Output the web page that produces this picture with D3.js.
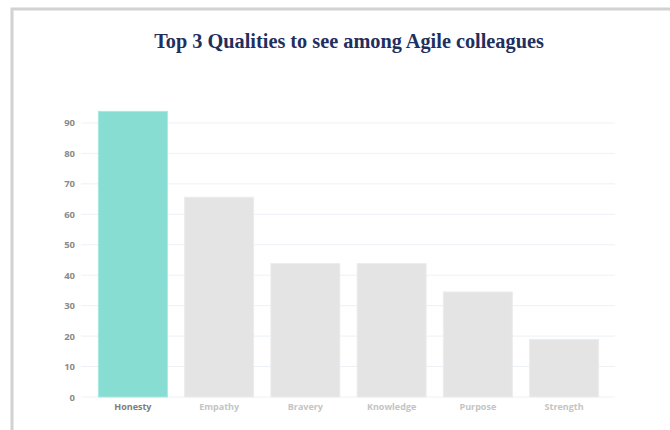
<!DOCTYPE html>
<html>
<head>
<meta charset="utf-8">
<script src="https://cdn.jsdelivr.net/npm/d3@7"></script>
<style>
  body { margin: 0; background: #fff; }
  svg { display: block; }
  .tick text { font-family: "Open Sans", sans-serif; font-weight: 700; }
</style>
</head>
<body>
<svg id="chart" width="670" height="430"></svg>
<script>
const qualities = ['Honesty', 'Empathy', 'Bravery', 'Knowledge', 'Purpose', 'Strength']
const votes = [93.8, 65.6, 43.8, 43.8, 34.5, 18.9]
const yTicks = [0, 10, 20, 30, 40, 50, 60, 70, 80, 90]

const data = qualities.map((q, i) => ({ q, v: votes[i] }))

let svg = d3.select('#chart')

// card border (shadow on top and left)
svg.append('rect')
  .attr('x', 12).attr('y', 9)
  .attr('width', 680).attr('height', 440)
  .attr('fill', '#fff')
  .attr('stroke', '#d2d2d2')
  .attr('stroke-width', 3)

svg.append('text')
  .attr('x', 349).attr('y', 48)
  .attr('text-anchor', 'middle')
  .attr('font-family', '"Liberation Serif", "Times New Roman", serif')
  .attr('font-weight', 'bold')
  .attr('font-size', 20.3)
  .attr('fill', '#1f2f5e')
  .text('Top 3 Qualities to see among Agile colleagues')

let x = d3.scaleBand()
  .domain(qualities)
  .range([82, 615])
  .paddingInner(0.2)
  .paddingOuter(0.19)

let y = d3.scaleLinear()
  .domain([0, 100])
  .range([397, 92.5])

// grid lines
svg.append('g')
  .selectAll('line')
  .data(yTicks)
  .enter()
  .append('line')
  .attr('x1', 81).attr('x2', 615)
  .attr('y1', d => y(d)).attr('y2', d => y(d))
  .attr('stroke', '#edf1f6')
  .attr('stroke-width', 1)

let yAxis = svg.append('g')
  .attr('transform', 'translate(75,0)')
  .call(d3.axisLeft(y).tickValues(yTicks).tickSize(0).tickPadding(0))
yAxis.select('.domain').remove()
yAxis.selectAll('text')
  .attr('font-size', 9.5)
  .attr('fill', '#8a8a8a')

svg.append('g')
  .selectAll('rect')
  .data(data)
  .enter()
  .append('rect')
  .attr('x', d => x(d.q))
  .attr('y', d => y(d.v))
  .attr('width', x.bandwidth())
  .attr('height', d => y(0) - y(d.v))
  .attr('fill', (d, i) => i === 0 ? '#88ddd3' : '#e4e4e4')
  .attr('stroke', (d, i) => i === 0 ? '#a6e8e0' : '#ececec')
  .attr('stroke-width', 1)

let xAxis = svg.append('g')
  .attr('transform', 'translate(0,397)')
  .call(d3.axisBottom(x).tickSize(0).tickPadding(7))
xAxis.select('.domain').remove()
xAxis.selectAll('text')
  .attr('font-size', 9)
  .attr('fill', (d, i) => i === 0 ? '#7d7d7d' : '#c4c4c4')
</script>
</body>
</html>
